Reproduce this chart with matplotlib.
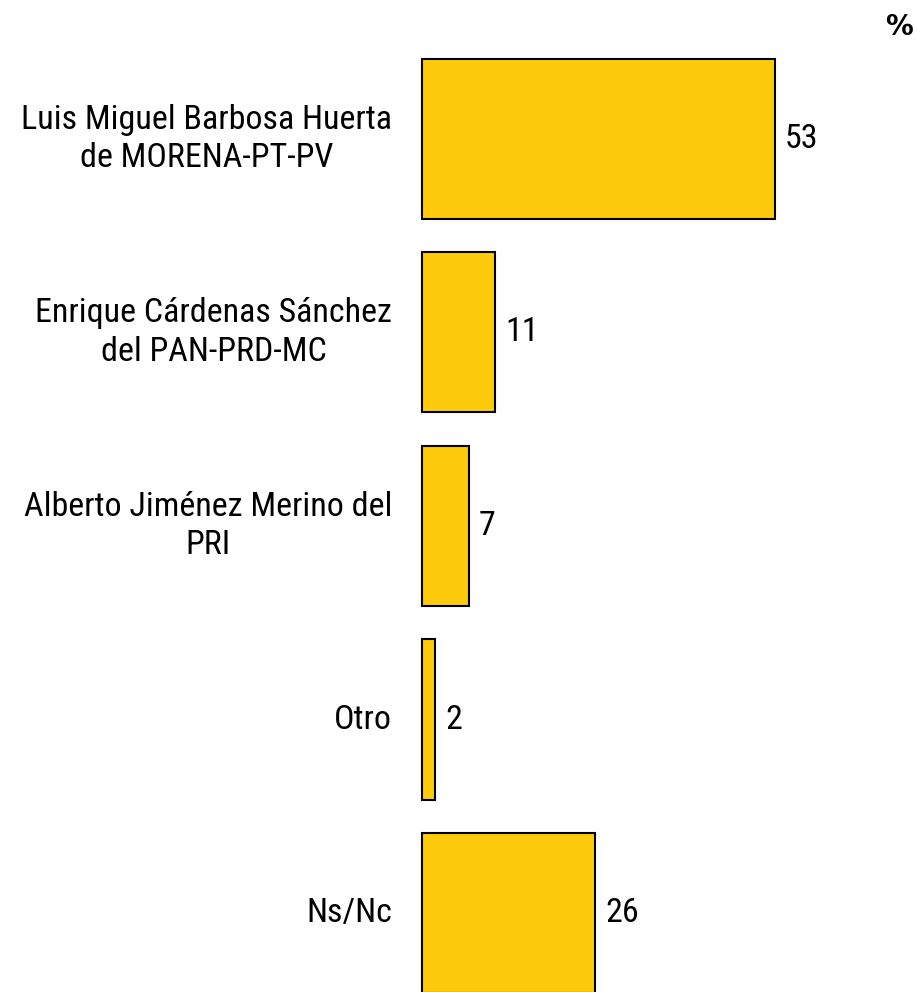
import matplotlib
matplotlib.use('Agg')
import matplotlib.pyplot as plt

names = ['Luis Miguel Barbosa Huerta\nde MORENA-PT-PV',
         'Enrique Cárdenas Sánchez\ndel PAN-PRD-MC',
         'Alberto Jiménez Merino del\nPRI',
         'Otro',
         'Ns/Nc']
values = [53, 11, 7, 2, 26]

plt.rcParams['font.family'] = ['Roboto Condensed', 'Liberation Sans', 'DejaVu Sans']

fig = plt.figure(figsize=(9.17, 9.92), dpi=100)
ax = fig.add_axes([422 / 917, 0, 495 / 917, 1])

pos = list(range(len(values)))
bars = ax.barh(pos, values, height=0.827, color='#FDCB0B', edgecolor='black', linewidth=1.5)
for b in bars:
    b.set_clip_on(False)
ax.set_xlim(0, 74.3)
ax.set_ylim(4.408, -0.718)
ax.axis('off')

for p, v, n in zip(pos, values, names):
    ax.text(v + 1.5, p, str(v), va='center', ha='left', fontsize=24.5)
    ax.text(-4.5, p, n, va='center', ha='right', fontsize=24.5, multialignment='center',
            linespacing=1.25)

fig.text(899 / 917, 1 - 27 / 992, '%', ha='center', va='center', fontsize=20,
         fontweight='bold', family='DejaVu Sans')

fig.savefig('out.png', dpi=100)
